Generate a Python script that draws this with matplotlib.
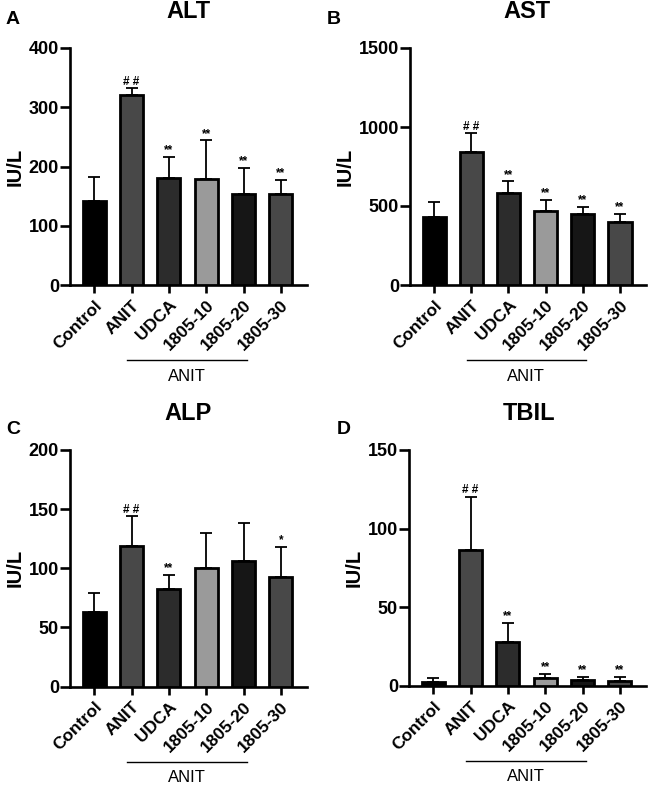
import matplotlib
matplotlib.use("Agg")
import matplotlib.pyplot as plt
import matplotlib.transforms as mtransforms

plt.rcParams['font.family'] = ['Liberation Sans', 'DejaVu Sans']

groups = ["Control", "ANIT", "UDCA", "1805-10", "1805-20", "1805-30"]
bar_colors = ["#000000", "#484848", "#2c2c2c", "#9a9a9a", "#161616", "#484848"]

alt_mean = [142, 321, 181, 179, 153, 153]
alt_err = [41, 11, 35, 65, 44, 25]
alt_sig = ["", "##", "**", "**", "**", "**"]

ast_mean = [432, 840, 584, 468, 449, 401]
ast_err = [95, 120, 72, 70, 47, 50]
ast_sig = ["", "##", "**", "**", "**", "**"]

alp_mean = [63, 119, 82.5, 100.5, 106.5, 92.5]
alp_err = [16, 25, 12, 29.5, 32, 25.5]
alp_sig = ["", "##", "**", "", "", "*"]

tbil_mean = [2.7, 86.2, 28.2, 5.3, 3.6, 3.3]
tbil_err = [2.2, 34, 12, 2.3, 1.9, 2.2]
tbil_sig = ["", "##", "**", "**", "**", "**"]

panels = [
    ("A", "ALT", alt_mean, alt_err, alt_sig, 400, [0, 100, 200, 300, 400]),
    ("B", "AST", ast_mean, ast_err, ast_sig, 1500, [0, 500, 1000, 1500]),
    ("C", "ALP", alp_mean, alp_err, alp_sig, 200, [0, 50, 100, 150, 200]),
    ("D", "TBIL", tbil_mean, tbil_err, tbil_sig, 150, [0, 50, 100, 150]),
]

W, H = 648, 785
fig = plt.figure(figsize=(W / 100, H / 100), dpi=100)

# axes boxes in pixels: left, top(of ymax), right, bottom(y=0)
boxes = [
    (70, 48, 307, 285),
    (410, 48, 646, 285),
    (70, 450, 307, 686.5),
    (409, 450, 646, 686),
]
title_pos = [(188, 11), (527, 11), (188, 413), (529, 413)]
letter_pos = [(13, 19), (334, 20), (13, 429), (344, 429)]

for (letter, title, mean, err, sig, ymax, yticks), box, tp, lp in zip(panels, boxes, title_pos, letter_pos):
    l, t, r, b = box
    ax = fig.add_axes([l / W, (H - b) / H, (r - l) / W, (b - t) / H])
    x = list(range(len(groups)))
    ax.bar(x, mean, width=0.62, color=bar_colors, edgecolor="black", linewidth=2.0, zorder=3)
    ax.errorbar(x, mean, yerr=[[0] * len(err), err], fmt="none", ecolor="black",
                elinewidth=1.3, capsize=4.5, capthick=1.3, zorder=2)
    for xi, m, e, s in zip(x, mean, err, sig):
        if s:
            label = "# #" if s == "##" else s
            ax.annotate(label, (xi, m + e), xytext=(0, 0.5), textcoords="offset points",
                        ha="center", va="bottom", fontsize=8.5, fontweight="bold")
    ax.set_xlim(-0.65, 5.7)
    ax.set_ylim(0, ymax)
    ax.set_yticks(yticks)
    ax.set_yticklabels([str(v) for v in yticks], fontsize=13, fontweight="bold")
    ax.set_xticks(x)
    ax.set_xticklabels(groups, rotation=45, ha="right", rotation_mode="anchor",
                       fontsize=12.5, fontweight="bold")
    for sp in ["top", "right"]:
        ax.spines[sp].set_visible(False)
    for sp in ["left", "bottom"]:
        ax.spines[sp].set_linewidth(1.9)
    ax.tick_params(axis="y", width=1.9, length=7, pad=1)
    ax.tick_params(axis="x", width=1.9, length=6, pad=3)
    ax.set_ylabel("IU/L", fontsize=14.5, fontweight="bold", labelpad=3)

    # bracket below the ANIT-treated groups
    trans = mtransforms.blended_transform_factory(ax.transData, ax.transAxes)
    ax.plot([0.88, 4.08], [-0.318, -0.318], transform=trans, color="black",
            linewidth=1.0, clip_on=False)
    ax.text(2.48, -0.385, "ANIT", transform=trans, ha="center", va="center", fontsize=12)

    fig.text(tp[0] / W, 1 - tp[1] / H, title, ha="center", va="center",
             fontsize=17, fontweight="bold")
    fig.text(lp[0] / W, 1 - lp[1] / H, letter, ha="center", va="center",
             fontsize=14, fontweight="bold")

fig.savefig("out.png", dpi=100)
